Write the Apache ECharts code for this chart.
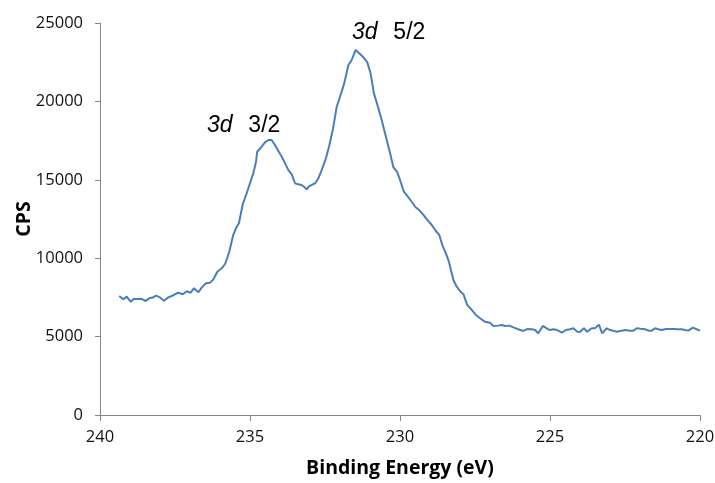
<!DOCTYPE html>
<html>
<head>
<meta charset="utf-8">
<script src="https://cdn.jsdelivr.net/npm/echarts@6/dist/echarts.min.js"></script>
<style>html,body{margin:0;padding:0;background:#fff}#c{width:715px;height:483px}</style>
</head>
<body>
<div id="c"></div>
<script>
var energies = [239.36,239.22,239.11,238.98,238.87,238.61,238.48,238.36,238.24,238.13,238.00,237.87,237.72,237.61,237.50,237.39,237.24,237.11,236.98,236.87,236.72,236.61,236.47,236.33,236.22,236.09,235.94,235.83,235.69,235.56,235.44,235.37,235.24,235.13,235.00,234.89,234.80,234.76,234.61,234.50,234.39,234.28,234.17,234.06,233.94,233.83,233.72,233.61,233.50,233.39,233.28,233.20,233.11,233.03,232.94,232.83,232.72,232.61,232.47,232.36,232.24,232.11,231.98,231.86,231.72,231.61,231.48,231.36,231.22,231.09,230.98,230.87,230.72,230.61,230.47,230.33,230.22,230.10,230.00,229.87,229.72,229.61,229.48,229.36,229.22,229.09,228.94,228.81,228.69,228.59,228.47,228.37,228.22,228.11,227.98,227.89,227.76,227.61,227.47,227.33,227.17,227.00,226.89,226.72,226.61,226.50,226.36,226.22,226.06,225.89,225.76,225.61,225.50,225.39,225.24,225.11,225.00,224.89,224.76,224.61,224.47,224.33,224.22,224.09,224.00,223.87,223.76,223.61,223.50,223.37,223.26,223.11,223.00,222.87,222.76,222.61,222.48,222.33,222.22,222.11,221.98,221.83,221.72,221.61,221.50,221.39,221.28,221.13,221.00,220.89,220.76,220.61,220.50,220.39,220.24,220.11,220.00];
var cps = [7590,7380,7550,7230,7400,7400,7270,7440,7490,7610,7500,7290,7500,7590,7700,7800,7700,7890,7800,8080,7830,8120,8400,8440,8650,9140,9360,9630,10410,11480,12010,12230,13460,14030,14780,15410,16150,16790,17110,17390,17540,17540,17220,16860,16470,16050,15620,15350,14780,14710,14670,14560,14390,14600,14670,14780,15100,15620,16370,17150,18180,19660,20410,21150,22320,22640,23280,23070,22810,22490,21790,20510,19560,18810,17750,16690,15800,15520,14990,14240,13880,13600,13250,13070,12760,12440,12120,11750,11480,10840,10310,9780,8610,8180,7860,7720,7020,6700,6380,6170,5950,5890,5680,5700,5740,5680,5700,5590,5470,5360,5480,5470,5420,5210,5680,5530,5420,5470,5420,5250,5420,5470,5530,5310,5290,5530,5310,5530,5530,5760,5210,5530,5420,5360,5310,5380,5420,5380,5380,5530,5500,5470,5380,5380,5530,5470,5420,5480,5480,5480,5470,5470,5420,5380,5570,5470,5380];
var xTicks = [240, 235, 230, 225, 220];
var yTicks = [0, 5000, 10000, 15000, 20000, 25000];
var peakLabels = [{name: '3d', state: '3/2'}, {name: '3d', state: '5/2'}];

var data = energies.map(function (e, i) { return [e, cps[i]]; });
var axisColor = '#868686';
var labelFont = 'Open Sans';
var chart = echarts.init(document.getElementById('c'), null, {renderer: 'canvas'});
function annot(p, x, y) {
  return {
    type: 'text', x: x, y: y,
    style: {
      text: '{i|' + p.name + '}{n|  ' + p.state + '}',
      verticalAlign: 'middle',
      rich: {
        i: {fontFamily: 'Liberation Sans', fontStyle: 'italic', fontSize: 23, fill: '#000'},
        n: {fontFamily: 'Liberation Sans', fontSize: 23, fill: '#000', padding: [0, 0, 0, 3]}
      }
    }
  };
}
chart.setOption({
  animation: false,
  grid: {left: 100, right: 15, top: 23, bottom: 68, outerBoundsMode: 'none', containLabel: false},
  xAxis: {
    type: 'value', min: 220, max: 240, interval: 5, inverse: true,
    name: 'Binding Energy (eV)', nameLocation: 'middle', nameGap: 43, nameMoveOverlap: false,
    nameTextStyle: {fontFamily: labelFont, fontWeight: 'bold', fontSize: 19.5, color: '#000'},
    axisLine: {show: true, lineStyle: {color: axisColor, width: 1}},
    axisTick: {show: true, length: 6, lineStyle: {color: axisColor}},
    axisLabel: {fontFamily: labelFont, fontSize: 16.5, color: '#111', margin: 14,
      formatter: function (v) { return xTicks.indexOf(v) >= 0 ? String(v) : ''; }},
    splitLine: {show: false}
  },
  yAxis: {
    type: 'value', min: 0, max: 25000, interval: 5000,
    name: 'CPS', nameLocation: 'middle', nameGap: 66, nameMoveOverlap: false,
    nameTextStyle: {fontFamily: labelFont, fontWeight: 'bold', fontSize: 19.5, color: '#000'},
    axisLine: {show: true, lineStyle: {color: axisColor, width: 1}},
    axisTick: {show: true, length: 5, lineStyle: {color: axisColor}},
    axisLabel: {fontFamily: labelFont, fontSize: 16.5, color: '#111', margin: 17,
      formatter: function (v) { return yTicks.indexOf(v) >= 0 ? String(v) : ''; }},
    splitLine: {show: false}
  },
  series: [{
    type: 'line', data: data, showSymbol: false, smooth: false,
    lineStyle: {color: '#4a7ebb', width: 2},
    itemStyle: {color: '#4a7ebb'}
  }],
  graphic: [annot(peakLabels[0], 207, 126), annot(peakLabels[1], 352, 33)]
});
</script>
</body>
</html>
